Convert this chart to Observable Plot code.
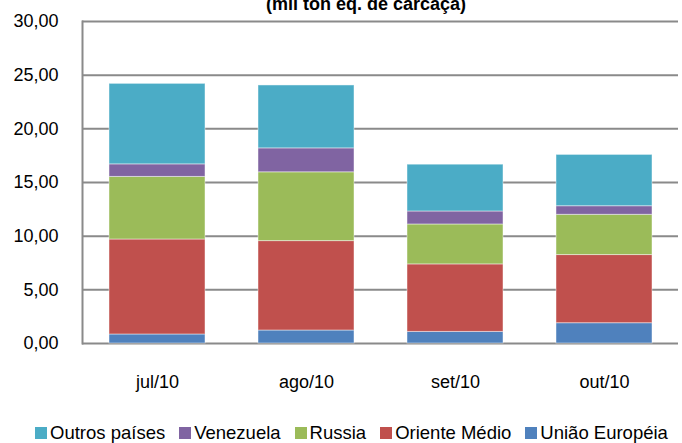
<!DOCTYPE html>
<html>
<head>
<meta charset="utf-8">
<script src="https://cdn.jsdelivr.net/npm/d3@7"></script>
<script src="https://cdn.jsdelivr.net/npm/@observablehq/plot@0.6"></script>
<style>
  body { margin: 0; background: #fff; }
  #wrap { position: relative; width: 682px; height: 443px; overflow: hidden; font-family: "Liberation Sans", Arial, sans-serif; }
  #title { position: absolute; top: -5px; left: 0; width: 732px; text-align: center; font-size: 18px; line-height: 18px; font-weight: bold; color: #000; white-space: nowrap; }
  #legend { position: absolute; top: 422px; left: 35px; width: max-content; display: flex; justify-content: flex-start; align-items: center; font-size: 18.5px; line-height: 22px; color: #000; white-space: nowrap; }
  #legend .item { display: flex; flex-shrink: 0; align-items: center; margin-right: 14px; }
  #legend .item:last-child { margin-right: 0; }
  #legend .sw { width: 12px; height: 12px; margin-right: 3px; flex-shrink: 0; }
</style>
</head>
<body>
<div id="wrap">
  <div id="title">(mil ton eq. de carcaça)</div>
  <div id="chart"></div>
  <div id="legend"></div>
</div>
<script>
const months = ["jul/10", "ago/10", "set/10", "out/10"];
const series = ["União Européia", "Oriente Médio", "Russia", "Venezuela", "Outros países"];
const uniaoEuropeia = [0.84, 1.21, 1.08, 1.89];
const orienteMedio = [8.85, 8.33, 6.29, 6.35];
const russia = [5.83, 6.41, 3.72, 3.75];
const venezuela = [1.17, 2.23, 1.21, 0.80];
const outrosPaises = [7.50, 5.86, 4.36, 4.78];
const yTicks = [0, 5, 10, 15, 20, 25, 30];
const colors = ["#4F81BD", "#C0504D", "#9BBB59", "#8064A2", "#4BACC6"];
const legendOrder = ["Outros países", "Venezuela", "Russia", "Oriente Médio", "União Européia"];

const valuesBySeries = [uniaoEuropeia, orienteMedio, russia, venezuela, outrosPaises];
const data = [];
months.forEach((m, i) => {
  series.forEach((s, j) => data.push({month: m, series: s, value: valuesBySeries[j][i]}));
});

const fmt = v => v.toFixed(2).replace(".", ",");
const gridColor = "#8a8a8a";

const chart = Plot.plot({
  width: 682,
  height: 420,
  marginTop: 21,
  marginBottom: 77,
  marginLeft: 82,
  marginRight: 4,
  style: {fontFamily: "Liberation Sans, Arial, sans-serif", fontSize: "18px", color: "#000", background: "transparent"},
  x: {domain: months, paddingInner: 0.356, paddingOuter: 0.178, label: null},
  y: {domain: [0, 30], label: null},
  color: {domain: series, range: colors},
  marks: [
    Plot.ruleY(yTicks, {stroke: gridColor, strokeWidth: 2}),
    Plot.frame({anchor: "left", stroke: gridColor, strokeWidth: 2}),
    Plot.barY(data, {
      x: "month", y: "value", fill: "series",
      order: series,
      stroke: "#ffffff", strokeWidth: 1, strokeOpacity: 0.45
    }),
    Plot.axisY({ticks: yTicks, tickFormat: fmt, tickSize: 0, tickPadding: 24, label: null, fontSize: 18}),
    Plot.axisX({tickSize: 0, tickPadding: 32, label: null, fontSize: 18})
  ]
});
document.getElementById("chart").appendChild(chart);

const legend = document.getElementById("legend");
legendOrder.forEach(name => {
  const item = document.createElement("div");
  item.className = "item";
  const sw = document.createElement("span");
  sw.className = "sw";
  sw.style.background = colors[series.indexOf(name)];
  const label = document.createElement("span");
  label.textContent = name;
  item.appendChild(sw);
  item.appendChild(label);
  legend.appendChild(item);
});
</script>
</body>
</html>
